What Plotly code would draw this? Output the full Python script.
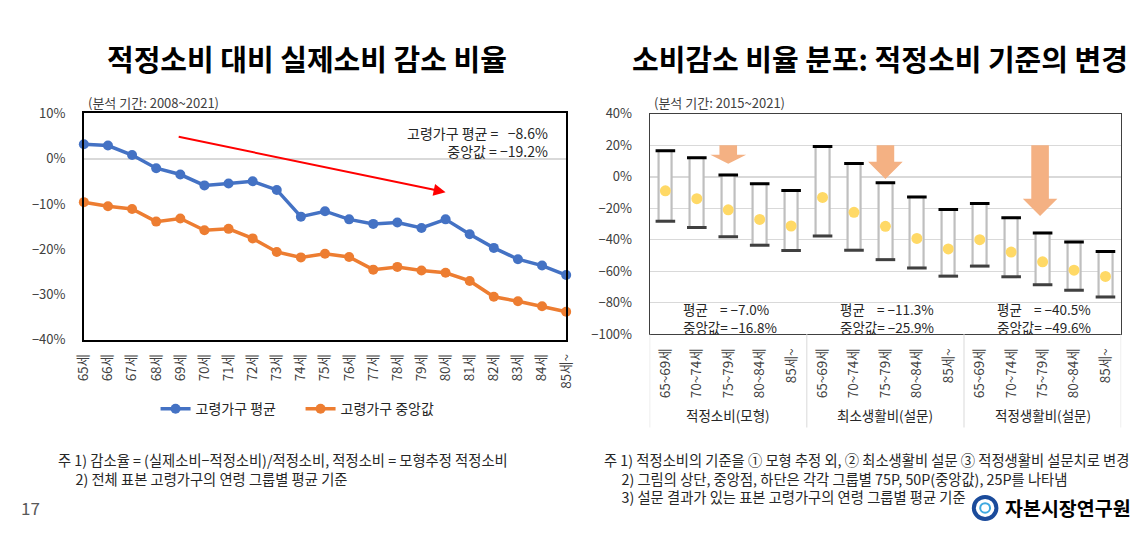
import plotly.graph_objects as go

# ---------------- data ----------------
ages_left = ["65세", "66세", "67세", "68세", "69세", "70세", "71세", "72세", "73세", "74세",
             "75세", "76세", "77세", "78세", "79세", "80세", "81세", "82세", "83세", "84세", "85세~"]
avg_left = [3.2, 2.9, 0.8, -2.1, -3.5, -5.9, -5.5, -5.0, -6.9, -12.8,
            -11.6, -13.4, -14.4, -14.1, -15.3, -13.4, -16.7, -19.7, -22.2, -23.6, -25.7]
med_left = [-9.6, -10.5, -11.1, -13.9, -13.2, -15.8, -15.5, -17.6, -20.6, -21.8,
            -21.0, -21.7, -24.5, -23.9, -24.7, -25.2, -27.0, -30.5, -31.5, -32.6, -33.8]

age_groups = ["65~69세", "70~74세", "75~79세", "80~84세", "85세~"]
criteria = ["적정소비(모형)", "최소생활비(설문)", "적정생활비(설문)"]
p75 = [16.6, 12.1, 1.2, -4.4, -8.7, 19.2, 8.5, -3.8, -12.9, -20.8, -17.0, -26.1, -35.8, -41.4, -47.5]
p50 = [-8.9, -13.9, -21.0, -27.1, -31.3, -13.1, -22.6, -31.5, -39.2, -45.9, -40.0, -47.9, -54.1, -59.4, -63.4]
p25 = [-28.3, -32.3, -38.2, -43.6, -46.9, -37.6, -46.7, -52.7, -58.0, -63.2, -56.8, -63.6, -68.7, -72.1, -76.4]
grp_mean = ["−7.0%", "−11.3%", "−40.5%"]
grp_median = ["−16.8%", "−25.9%", "−49.6%"]

notes_left = ["주 1) 감소율 = (실제소비−적정소비)/적정소비, 적정소비 = 모형추정 적정소비",
              "2) 전체 표본 고령가구의 연령 그룹별 평균 기준"]
notes_right = ["주 1) 적정소비의 기준을 ① 모형 추정 외, ② 최소생활비 설문 ③ 적정생활비 설문치로 변경",
               "2) 그림의 상단, 중앙점, 하단은 각각 그룹별 75P, 50P(중앙값), 25P를 나타냄",
               "3) 설문 결과가 있는 표본 고령가구의 연령 그룹별 평균 기준"]

# ---------------- helpers ----------------
PAGE_W, PAGE_H = 1147, 537
OFF = 8                       # default body margin of the page
W, H = PAGE_W - 2 * OFF, PAGE_H - 2 * OFF
FONT = "Noto Sans CJK KR"
def px(x):
    return (x - OFF) / W
def py(y):
    return 1 - (y - OFF) / H

fig = go.Figure()

# ---------------- left chart ----------------
xl = list(range(len(ages_left)))
fig.add_trace(go.Scatter(x=xl, y=avg_left, mode="lines+markers", name="고령가구 평균",
                         line=dict(color="#4472C4", width=3.5),
                         marker=dict(size=10, color="#4472C4"),
                         cliponaxis=False, xaxis="x", yaxis="y"))
fig.add_trace(go.Scatter(x=xl, y=med_left, mode="lines+markers", name="고령가구 중앙값",
                         line=dict(color="#ED7D31", width=3.5),
                         marker=dict(size=10, color="#ED7D31"),
                         cliponaxis=False, xaxis="x", yaxis="y"))

# ---------------- right chart ----------------
n = len(p75)
xr = list(range(n))
tick_r = [age_groups[i % len(age_groups)] for i in xr]
fig.add_trace(go.Bar(x=xr, y=[a - b for a, b in zip(p75, p25)], base=p25, width=0.43,
                     marker=dict(color="white", line=dict(color="#BFBFBF", width=2.2)),
                     showlegend=False, xaxis="x2", yaxis="y2", hoverinfo="skip"))
fig.add_trace(go.Scatter(x=xr, y=p75, mode="markers", showlegend=False,
                         marker=dict(symbol="line-ew", size=14, line=dict(color="black", width=3)),
                         xaxis="x2", yaxis="y2"))
fig.add_trace(go.Scatter(x=xr, y=p25, mode="markers", showlegend=False,
                         marker=dict(symbol="line-ew", size=14, line=dict(color="#404040", width=3)),
                         xaxis="x2", yaxis="y2"))
fig.add_trace(go.Scatter(x=xr, y=p50, mode="markers", showlegend=False,
                         marker=dict(symbol="circle", size=11, color="#FFD966"),
                         xaxis="x2", yaxis="y2"))

# block arrows (center x, top, head start, tip, half shaft width, half head width)
arrows = [(2.0, 20, 14.0, 8.3, 0.28, 0.57),
          (7.0, 20, 9.5, -1.4, 0.28, 0.55),
          (11.92, 20, -14.0, -25.0, 0.28, 0.55)]
shapes = []
for cx, top, hs, tip, sw, hw in arrows:
    path = (f"M {cx-sw},{top} L {cx+sw},{top} L {cx+sw},{hs} L {cx+hw},{hs} "
            f"L {cx},{tip} L {cx-hw},{hs} L {cx-sw},{hs} Z")
    shapes.append(dict(type="path", path=path, xref="x2", yref="y2",
                       fillcolor="#F4B183", line=dict(width=0), layer="above"))

# group dividers below right chart
for xv in [-0.5, 4.5, 9.5, 14.5]:
    shapes.append(dict(type="line", xref="x2", yref="paper", x0=xv, x1=xv,
                       y0=py(336), y1=py(433), line=dict(color="#D9D9D9", width=1)))

# logo
shapes.append(dict(type="circle", xref="paper", yref="paper",
                   x0=px(979), x1=px(1002), y0=py(528), y1=py(505),
                   line=dict(color="#1B4B9B", width=4)))
shapes.append(dict(type="circle", xref="paper", yref="paper",
                   x0=px(985.5), x1=px(995.5), y0=py(521.5), y1=py(511.5),
                   line=dict(color="#3FA9E0", width=2)))

annotations = []
def note(text, x, y, xanchor="left", size=13, color="#262626", align="left"):
    annotations.append(dict(text=text, x=px(x), y=py(y), xref="paper", yref="paper",
                            xanchor=xanchor, yanchor="middle", align=align, showarrow=False,
                            font=dict(size=size, color=color)))

# titles
note("<b>적정소비 대비 실제소비 감소 비율</b>", 300, 50, "center", 29, "black")
note("<b>소비감소 비율 분포: 적정소비 기준의 변경</b>", 883, 50, "center", 29, "black")
# subtitles
note("(분석 기간: 2008~2021)", 75, 96, "left", 13, "#404040")
note("(분석 기간: 2015~2021)", 651, 96, "left", 13, "#404040")
# left stats
note("고령가구 평균 =\u00a0\u00a0\u00a0−8.6%<br>중앙값 = −19.2%", 548, 137, "right", 14, "#262626", "right")
# red trend arrow
annotations.append(dict(x=15.0, y=-7.4, ax=3.87, ay=4.9, xref="x", yref="y", axref="x", ayref="y",
                        showarrow=True, arrowhead=2, arrowsize=1.2, arrowwidth=2, arrowcolor="#FF0000",
                        text=""))
# right group stats and labels
for g in range(3):
    cx = g * 5
    annotations.append(dict(text=f"평균\u00a0\u00a0\u00a0\u00a0= {grp_mean[g]}<br>중앙값= {grp_median[g]}",
                            x=cx + 0.5, y=py(319), xref="x2", yref="paper", xanchor="left",
                            yanchor="middle", align="left", showarrow=False,
                            font=dict(size=13.5, color="#262626")))
    annotations.append(dict(text=criteria[g], x=cx + 2, y=py(420), xref="x2", yref="paper",
                            xanchor="center", yanchor="middle", showarrow=False,
                            font=dict(size=13.5, color="#262626")))
# notes (one block each, continuation lines indented under "1)")
INDENT = "\u3000\u00a0"
note("<br>".join([notes_left[0]] + [INDENT + s for s in notes_left[1:]]), 45, 476.5, size=14.3)
note("<br>".join([notes_right[0]] + [INDENT + s for s in notes_right[1:]]), 600, 485, size=14.3)
note("17", 7, 516, "left", 17, "#595959")
note("<b>자본시장연구원</b>", 1009, 516, "left", 19.5, "black")

fig.update_layout(
    width=W, height=H, margin=dict(l=0, r=0, t=0, b=0),
    paper_bgcolor="white", plot_bgcolor="white",
    font=dict(family=FONT, size=13, color="#404040"),
    showlegend=True,
    legend=dict(orientation="h", x=px(146), xanchor="left", y=py(414), yanchor="middle",
                font=dict(size=14, color="#262626"), itemwidth=30, entrywidth=100,
                bgcolor="rgba(0,0,0,0)"),
    xaxis=dict(domain=[px(73), px(564)], range=[0, 20], tickmode="array", tickvals=xl,
               ticktext=ages_left, tickangle=-90, showgrid=False, zeroline=False,
               showline=True, mirror=True, linecolor="black", linewidth=1.5,
               ticks="", ticklabelstandoff=7, tickfont=dict(size=13.5, color="#404040")),
    yaxis=dict(domain=[py(342), py(107)], range=[-40, 10], dtick=10, ticksuffix="%",
               showgrid=False, zeroline=True, zerolinecolor="#D9D9D9", zerolinewidth=1.5,
               showline=True, mirror=True, linecolor="black", linewidth=1.5,
               ticks="", ticklabelstandoff=14, tickfont=dict(size=13, color="#404040")),
    xaxis2=dict(domain=[px(649), px(1129)], range=[-0.5, 14.5], tickmode="array", tickvals=xr,
                ticktext=tick_r, tickangle=-90, showgrid=False, zeroline=False,
                showline=True, mirror=True, linecolor="#404040", linewidth=1,
                ticks="", ticklabelstandoff=8, tickfont=dict(size=13.5, color="#404040"),
                anchor="y2"),
    yaxis2=dict(domain=[py(336), py(107.5)], range=[-100, 40], dtick=20, ticksuffix="%",
                showgrid=True, gridcolor="#D9D9D9", zeroline=True, zerolinecolor="#D9D9D9",
                showline=True, mirror=True, linecolor="#404040", linewidth=1,
                ticks="", ticklabelstandoff=14, tickfont=dict(size=13, color="#404040"),
                anchor="x2"),
    shapes=shapes, annotations=annotations,
    bargap=0,
)

fig.write_html("out.html", config={"displayModeBar": False})
